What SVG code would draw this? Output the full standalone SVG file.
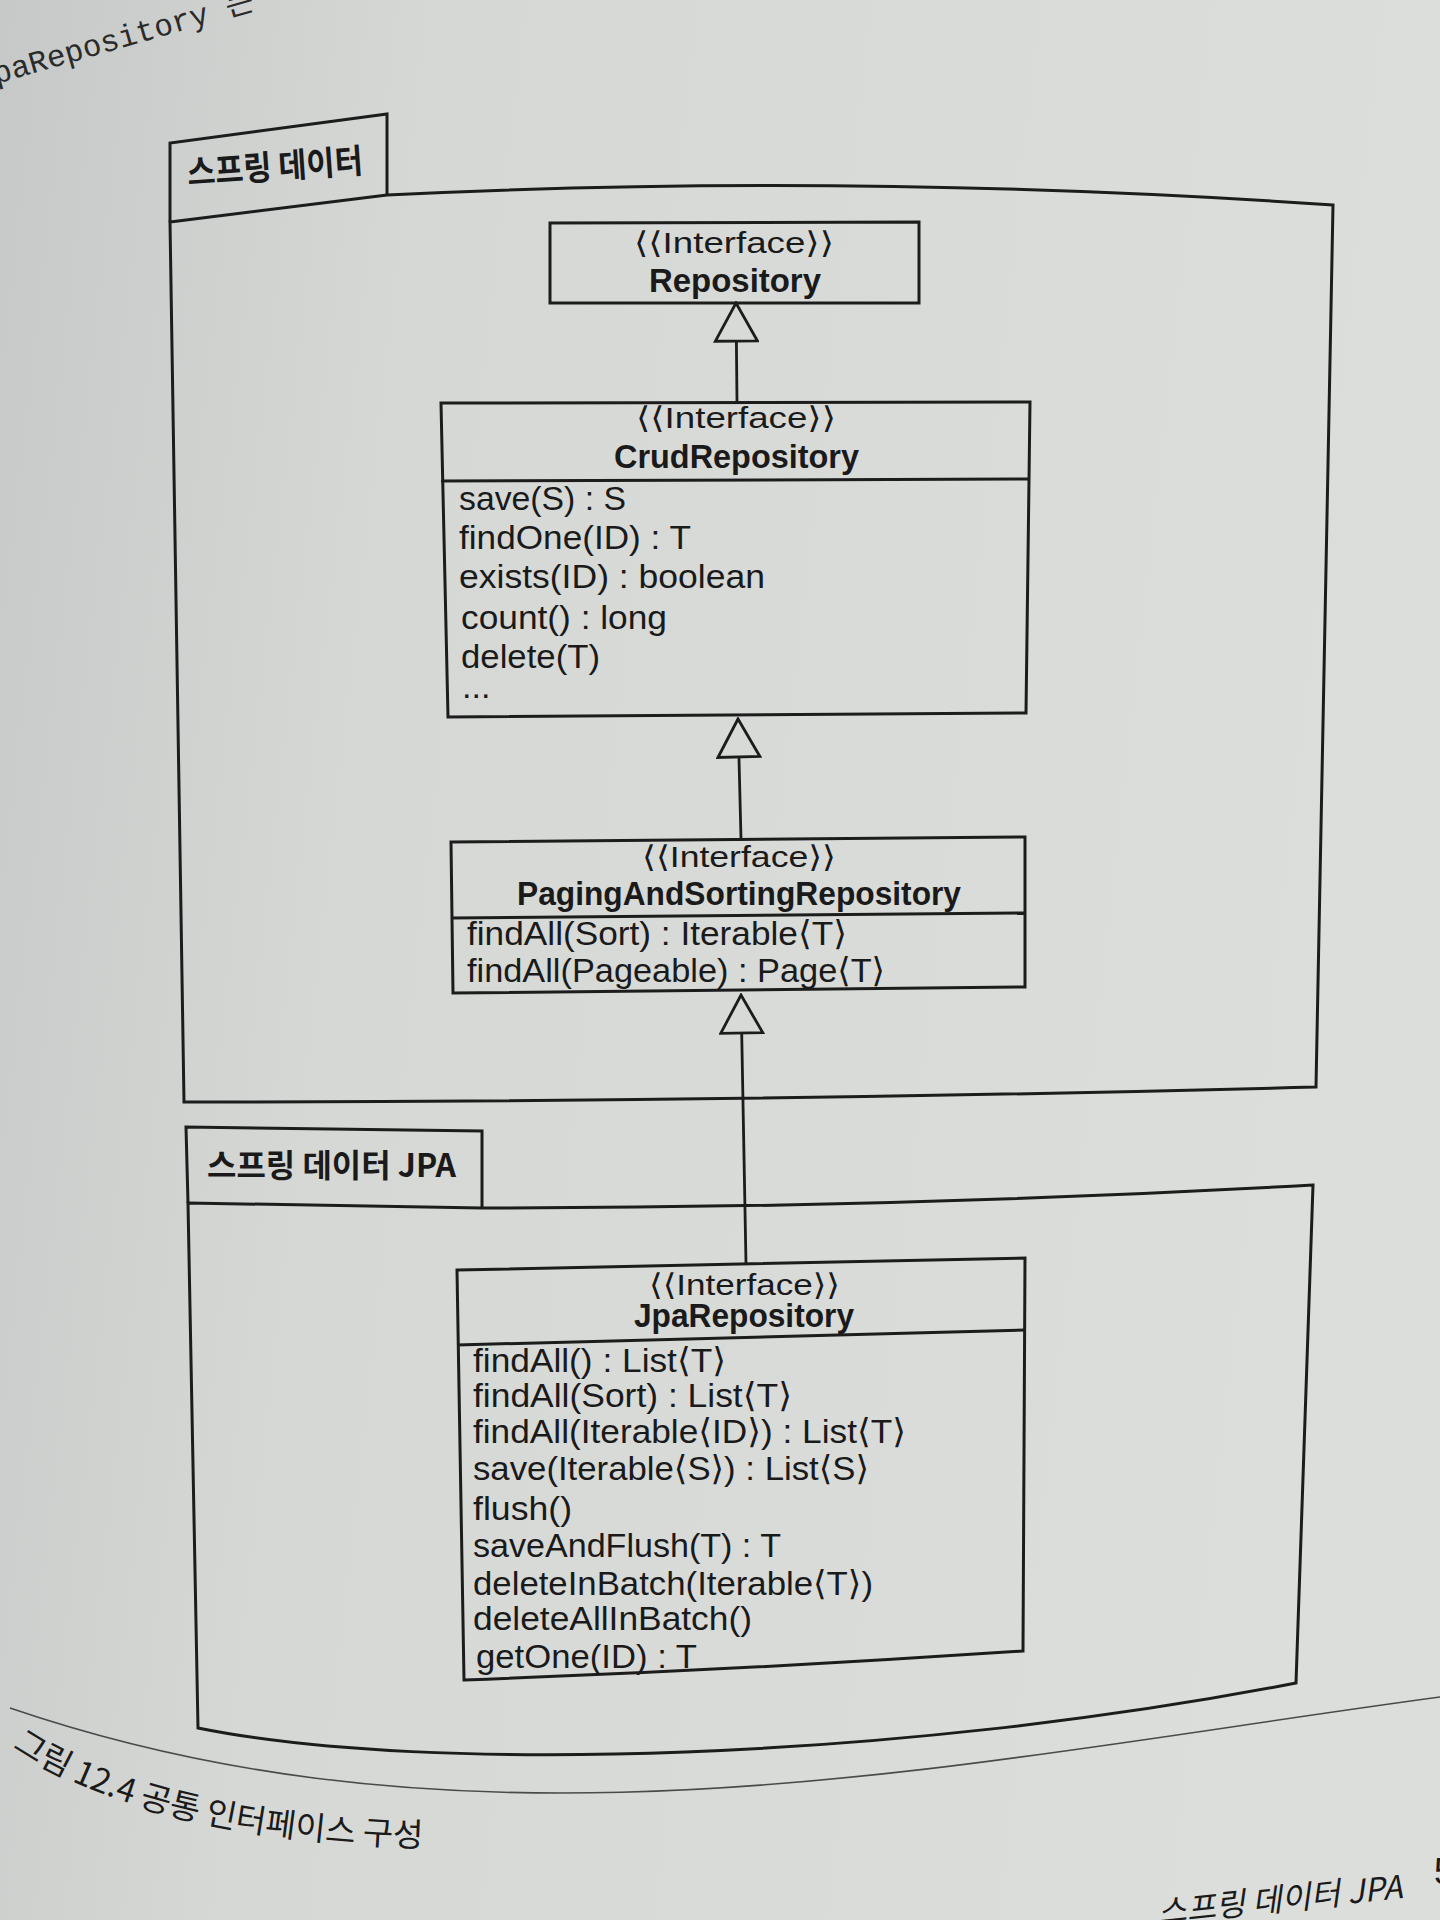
<svg xmlns="http://www.w3.org/2000/svg" width="1440" height="1920" viewBox="0 0 1440 1920">
  <defs>
    <linearGradient id="paper" x1="0" y1="0" x2="1" y2="0.15">
      <stop offset="0" stop-color="#c6c9c7"/>
      <stop offset="0.3" stop-color="#d6d8d6"/>
      <stop offset="1" stop-color="#dcdedc"/>
    </linearGradient>
    <marker id="gen" viewBox="0 0 42 46" refX="40" refY="23" markerWidth="42" markerHeight="46" markerUnits="userSpaceOnUse" orient="auto">
      <path d="M2,2 L40,23 L2,44 Z" fill="#d8dad8" stroke="#1c1c1c" stroke-width="2.8" stroke-linejoin="miter"/>
    </marker>
    <style>
      .ln { fill: none; stroke: #1c1c1c; stroke-width: 3; stroke-linejoin: miter; }
      .cn { fill: none; stroke: #1c1c1c; stroke-width: 2.8; }
      .t { font-family: "Liberation Sans", "DejaVu Sans", Arial, sans-serif; fill: #1a1a1a; }
      .st { font-size: 30px; }
      .nm { font-size: 33px; font-weight: bold; }
      .m { font-size: 34px; }
      .kr { font-family: "Noto Sans CJK KR", "Noto Sans", sans-serif; fill: #1a1a1a; }
    </style>
  </defs>

  <rect x="0" y="0" width="1440" height="1920" fill="url(#paper)"/>

  <!-- page fragments -->
  <text x="-4" y="84" transform="rotate(-16 -4 84)" font-family="'Liberation Mono', 'Noto Sans CJK KR', monospace" font-size="31" fill="#2a2a2a">paRepository 는</text>
  <path d="M10,1708 C487,1871 963,1761 1440,1697" fill="none" stroke="#4a4a4a" stroke-width="1.6"/>
  <path id="capPath" d="M12,1748 Q150,1840 430,1847" fill="none"/>
  <text class="kr" font-size="33"><textPath href="#capPath">그림 12.4 공통 인터페이스 구성</textPath></text>
  <text class="kr" x="1403" y="1898" text-anchor="end" font-size="32" font-style="italic" transform="rotate(-6 1403 1898)">스프링 데이터 JPA</text>
  <text class="t" x="1434" y="1884" font-size="36">5</text>

  <!-- package: 스프링 데이터 -->
  <g id="pkg-spring-data">
    <path class="ln" d="M170,222 L170,143 L387,114 L387,195"/>
    <path class="ln" d="M170,222 L387,195 Q850,172 1333,205 L1316,1087 Q750,1102 184,1102 Z"/>
    <text class="kr" x="188" y="185" font-size="34" font-weight="bold" textLength="176" lengthAdjust="spacingAndGlyphs" transform="rotate(-4 188 185)">스프링 데이터</text>
  </g>

  <!-- package: 스프링 데이터 JPA -->
  <g id="pkg-spring-data-jpa">
    <path class="ln" d="M188,1203 L186,1127 L482,1131 L482,1208"/>
    <path class="ln" d="M188,1203 L482,1208 Q900,1208 1313,1185 L1296,1683 C900,1760 430,1775 198,1728 Z"/>
    <text class="kr" x="207" y="1177" font-size="32" font-weight="bold" textLength="249" lengthAdjust="spacingAndGlyphs">스프링 데이터 JPA</text>
  </g>

  <!-- Repository -->
  <g id="node-repository">
    <path class="ln" d="M550,223 L919,222 L919,303 L550,303 Z"/>
    <text class="t st" x="634" y="253" textLength="200" lengthAdjust="spacingAndGlyphs">⟨⟨Interface⟩⟩</text>
    <text class="t nm" x="649" y="292" textLength="172" lengthAdjust="spacingAndGlyphs">Repository</text>
  </g>

  <!-- CrudRepository -->
  <g id="node-crud">
    <path class="ln" d="M441,403 L1030,402 L1026,713 L448,717 Z"/>
    <path class="ln" d="M441,481 L1029,479"/>
    <text class="t st" x="636" y="428" textLength="200" lengthAdjust="spacingAndGlyphs">⟨⟨Interface⟩⟩</text>
    <text class="t nm" x="614" y="468" textLength="245" lengthAdjust="spacingAndGlyphs">CrudRepository</text>
    <text class="t m" x="459" y="510" textLength="167" lengthAdjust="spacingAndGlyphs">save(S) : S</text>
    <text class="t m" x="459" y="549" textLength="232" lengthAdjust="spacingAndGlyphs">findOne(ID) : T</text>
    <text class="t m" x="459" y="588" textLength="306" lengthAdjust="spacingAndGlyphs">exists(ID) : boolean</text>
    <text class="t m" x="461" y="629" textLength="206" lengthAdjust="spacingAndGlyphs">count() : long</text>
    <text class="t m" x="461" y="668" textLength="139" lengthAdjust="spacingAndGlyphs">delete(T)</text>
    <text class="t m" x="462" y="698">...</text>
  </g>

  <!-- PagingAndSortingRepository -->
  <g id="node-paging">
    <path class="ln" d="M451,842 L1025,837 L1025,987 L453,993 Z"/>
    <path class="ln" d="M451,918 L1025,913"/>
    <text class="t st" x="642" y="867" textLength="194" lengthAdjust="spacingAndGlyphs">⟨⟨Interface⟩⟩</text>
    <text class="t nm" x="517" y="905" font-size="31" textLength="444" lengthAdjust="spacingAndGlyphs">PagingAndSortingRepository</text>
    <text class="t m" x="467" y="945" font-size="33" textLength="380" lengthAdjust="spacingAndGlyphs">findAll(Sort) : Iterable⟨T⟩</text>
    <text class="t m" x="467" y="982" font-size="33" textLength="418" lengthAdjust="spacingAndGlyphs">findAll(Pageable) : Page⟨T⟩</text>
  </g>

  <!-- JpaRepository -->
  <g id="node-jpa">
    <path class="ln" d="M457,1270 L1025,1258 L1023,1651 Q740,1670 464,1680 Z"/>
    <path class="ln" d="M457,1345 L1025,1330"/>
    <text class="t st" x="649" y="1295" textLength="191" lengthAdjust="spacingAndGlyphs">⟨⟨Interface⟩⟩</text>
    <text class="t nm" x="634" y="1327" font-size="35" textLength="220" lengthAdjust="spacingAndGlyphs">JpaRepository</text>
    <text class="t m" x="473" y="1372" font-size="36" textLength="253" lengthAdjust="spacingAndGlyphs">findAll() : List⟨T⟩</text>
    <text class="t m" x="473" y="1407" font-size="36" textLength="319" lengthAdjust="spacingAndGlyphs">findAll(Sort) : List⟨T⟩</text>
    <text class="t m" x="473" y="1443" font-size="36" textLength="433" lengthAdjust="spacingAndGlyphs">findAll(Iterable⟨ID⟩) : List⟨T⟩</text>
    <text class="t m" x="473" y="1480" font-size="36" textLength="396" lengthAdjust="spacingAndGlyphs">save(Iterable⟨S⟩) : List⟨S⟩</text>
    <text class="t m" x="473" y="1520" font-size="36" textLength="99" lengthAdjust="spacingAndGlyphs">flush()</text>
    <text class="t m" x="473" y="1557" font-size="36" textLength="308" lengthAdjust="spacingAndGlyphs">saveAndFlush(T) : T</text>
    <text class="t m" x="473" y="1595" font-size="36" textLength="400" lengthAdjust="spacingAndGlyphs">deleteInBatch(Iterable⟨T⟩)</text>
    <text class="t m" x="473" y="1630" font-size="36" textLength="279" lengthAdjust="spacingAndGlyphs">deleteAllInBatch()</text>
    <text class="t m" x="476" y="1668" font-size="36" textLength="221" lengthAdjust="spacingAndGlyphs">getOne(ID) : T</text>
  </g>

  <!-- connectors (generalization) -->
  <g id="connectors">
    <path class="cn" d="M737,402 L736,303" marker-end="url(#gen)"/>
    <path class="cn" d="M741,839 L738,719" marker-end="url(#gen)"/>
    <path class="cn" d="M746,1264 L741,995" marker-end="url(#gen)"/>
  </g>
</svg>
